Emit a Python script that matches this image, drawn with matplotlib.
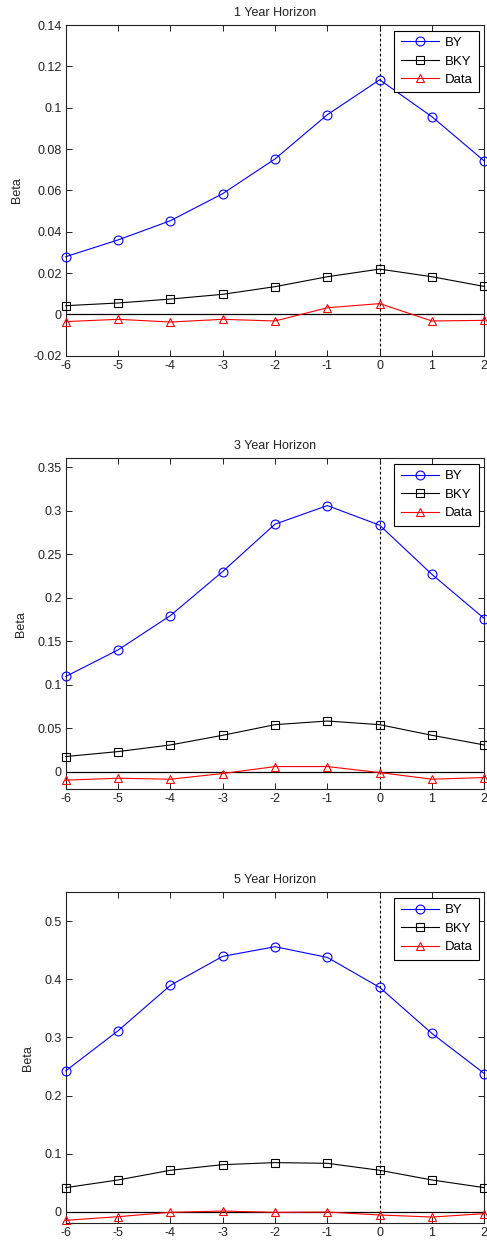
import matplotlib
matplotlib.use("Agg")
import matplotlib.pyplot as plt
import numpy as np

plt.rcParams['font.family'] = ['Liberation Sans', 'DejaVu Sans']
plt.rcParams['axes.unicode_minus'] = False

x_lags = [-6, -5, -4, -3, -2, -1, 0, 1, 2]
titles = ["1 Year Horizon", "3 Year Horizon", "5 Year Horizon"]
series_names = ["BY", "BKY", "Data"]

by_1 = [0.0279, 0.0360, 0.0453, 0.0584, 0.0752, 0.0966, 0.1135, 0.0956, 0.0742]
bky_1 = [0.0042, 0.0055, 0.0074, 0.0097, 0.0134, 0.0182, 0.0219, 0.0182, 0.0135]
data_1 = [-0.0035, -0.0024, -0.0037, -0.0024, -0.0032, 0.0032, 0.0052, -0.0032, -0.0029]

by_3 = [0.1095, 0.1400, 0.1794, 0.2300, 0.2844, 0.3057, 0.2832, 0.2267, 0.1760]
bky_3 = [0.0176, 0.0233, 0.0309, 0.0420, 0.0542, 0.0584, 0.0542, 0.0420, 0.0309]
data_3 = [-0.0095, -0.0073, -0.0084, -0.0019, 0.0061, 0.0061, -0.0008, -0.0084, -0.0065]

by_5 = [0.2425, 0.3115, 0.3897, 0.4397, 0.4563, 0.4379, 0.3862, 0.3069, 0.2379]
bky_5 = [0.0414, 0.0546, 0.0713, 0.0810, 0.0845, 0.0833, 0.0713, 0.0546, 0.0414]
data_5 = [-0.0149, -0.0086, -0.0011, 0.0011, -0.0011, -0.0006, -0.0057, -0.0092, -0.0034]

ylims = [(-0.02, 0.14), (-0.02, 0.36), (-0.02, 0.55)]
yticks = [
    [-0.02, 0, 0.02, 0.04, 0.06, 0.08, 0.1, 0.12, 0.14],
    [0, 0.05, 0.1, 0.15, 0.2, 0.25, 0.3, 0.35],
    [0, 0.1, 0.2, 0.3, 0.4, 0.5],
]
ylabel_x = [-0.102, -0.0925, -0.0757]

panels = [(by_1, bky_1, data_1), (by_3, bky_3, data_3), (by_5, bky_5, data_5)]

W, H = 487, 1241
fig = plt.figure(figsize=(W / 100, H / 100), dpi=100)

boxes = [(25.0, 355.7), (458.3, 789.3), (892.3, 1223.3)]
left_px, right_px = 65.7, 484.3

colors = ['#0000ff', '#000000', '#ff0000']
markers = ['o', 's', '^']
msizes = [6.4, 5.6, 6.4]

for i, (top, bot) in enumerate(boxes):
    ax = fig.add_axes([left_px / W, 1 - bot / H, (right_px - left_px) / W, (bot - top) / H])
    vals = panels[i]
    for v, name, c, m, ms in zip(vals, series_names, colors, markers, msizes):
        ax.plot(x_lags, v, color=c, marker=m, markersize=ms,
                markerfacecolor='none', markeredgecolor=c, markeredgewidth=0.8,
                linewidth=0.8, label=name, clip_on=False, zorder=3)
    ax.axhline(0, color='black', linewidth=0.9, zorder=2)
    ax.axvline(0, color='black', linewidth=0.8, linestyle=(0, (2.5, 2)), zorder=2)
    ax.set_xlim(-6, 2)
    ax.set_ylim(*ylims[i])
    ax.set_xticks(x_lags)
    ax.set_xticklabels([str(t) for t in x_lags])
    ax.set_yticks(yticks[i])
    ax.set_yticklabels(['%g' % t for t in yticks[i]])
    ax.tick_params(direction='in', length=4, width=0.7, top=True, right=True,
                   labelsize=9, colors='#222222', pad=3)
    for s in ax.spines.values():
        s.set_linewidth(0.8)
        s.set_color('#222222')
    ax.set_title(titles[i], fontsize=9, pad=6.5, color='#222222')
    ax.set_ylabel('Beta', fontsize=9, color='#222222')
    ax.yaxis.set_label_coords(ylabel_x[i], 0.5)
    leg = ax.legend(loc='upper right', fontsize=9.5, handlelength=2.9, borderpad=0.48,
                    labelspacing=0.47, handletextpad=0.43, fancybox=False, framealpha=1,
                    edgecolor='black', borderaxespad=0.42)
    leg.get_frame().set_linewidth(0.8)

fig.savefig('out.png', dpi=100)
